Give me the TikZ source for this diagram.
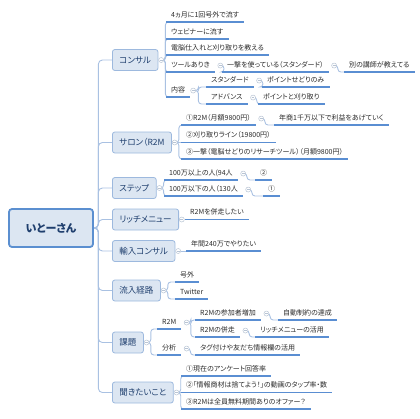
\documentclass[tikz,border=0pt]{standalone}
\usepackage{fontspec}
\newfontfamily\jpfont[RawFeature=+palt]{Noto Sans CJK JP}
\usetikzlibrary{positioning, backgrounds}
\definecolor{mnavy}{HTML}{1F3F6E}
\definecolor{mfill}{HTML}{DCE6F2}
\definecolor{medge}{HTML}{9DB9DE}
\definecolor{mroot}{HTML}{5B8FD0}
\definecolor{mline}{HTML}{A9C1E2}
\definecolor{muline}{HTML}{5A8ED2}
\definecolor{mfold}{HTML}{B8C4D4}
\definecolor{mtext}{HTML}{2B2B2B}
\tikzset{
  root/.style={
    draw=mroot, fill=mfill, line width=1.8pt, rounded corners=3pt,
    minimum width=84pt, minimum height=38pt, text=mnavy,
    font=\jpfont\bfseries\fontsize{11}{12}\selectfont
  },
  topic/.style={
    anchor=west, draw=medge, fill=mfill, line width=0.8pt, rounded corners=2.5pt,
    minimum height=21pt, inner xsep=7pt, text=mnavy,
    font=\jpfont\fontsize{8.5}{9}\selectfont
  },
  uline/.style={draw=muline, line width=1.1pt},
  leaf/.style={
    anchor=south west, inner xsep=5pt, inner ysep=3pt,
    text height=5pt, text depth=1.5pt, text=mtext,
    font=\jpfont\fontsize{7}{8}\selectfont,
    append after command={(\tikzlastnode.south west) edge[uline] (\tikzlastnode.south east)}
  },
  fold/.style={
    circle, draw=mfold, fill=white, line width=0.5pt, inner sep=0pt, minimum size=5pt,
    path picture={\draw[mfold, line width=0.5pt]
      ([xshift=-1.4pt]path picture bounding box.center) -- ([xshift=1.4pt]path picture bounding box.center);}
  },
  conn/.style={draw=mline, line width=0.9pt, rounded corners=3pt},
  trunk/.style={draw=mline, line width=0.9pt, rounded corners=4pt}
}
\begin{document}
\begin{tikzpicture}[x=1pt, y=-1pt]
  \useasboundingbox (0,0) rectangle (420,418);
  \node[root] (ito) at (51,228) {いとーさん};

  \node[topic] (kon) at (112,60) {コンサル};
  \node[topic] (salon) at (112,142.5) {サロン（R2M};
  \node[topic] (stp) at (112,188) {ステップ};
  \node[topic] (rich) at (112,219.5) {リッチメニュー};
  \node[topic] (yun) at (112,251) {輸入コンサル};
  \node[topic] (ryu) at (112,290.5) {流入経路};
  \node[topic] (kad) at (112,342.5) {課題};
  \node[topic] (kik) at (112,392.5) {聞きたいこと};

  \node[leaf] (kon1) at (166,22) {4ヵ月に1回号外で流す};
  \node[leaf] (kon2) at (166,39) {ウェビナーに流す};
  \node[leaf] (kon3) at (166,55) {電脳仕入れと刈り取りを教える};
  \node[leaf] (kon4) at (166,72) {ツールありき};
  \node[leaf] (kon4a) at (222,72) {一撃を使っている（スタンダード）};
  \node[leaf] (kon4b) at (344,72) {別の講師が教えてる};
  \node[leaf] (kon5) at (166,97) {内容};
  \node[leaf] (kon5a) at (206,87) {スタンダード};
  \node[leaf] (kon5aa) at (262,87) {ポイントせどりのみ};
  \node[leaf] (kon5b) at (206,104) {アドバンス};
  \node[leaf] (kon5ba) at (258,104) {ポイントと刈り取り};

  \node[leaf] (sal1) at (181,125) {①R2M（月額9800円）};
  \node[leaf] (sal1a) at (274,125) {年商1千万以下で利益をあげていく};
  \node[leaf] (sal2) at (181,142.5) {②刈り取りライン（19800円）};
  \node[leaf] (sal3) at (181,159) {③一撃（電脳せどりのリサーチツール）（月額9800円）};

  \node[leaf] (stp1) at (164,180) {100万以上の人(94人};
  \node[leaf] (stp1a) at (255,180) {②};
  \node[leaf] (stp2) at (164,196) {100万以下の人（130人};
  \node[leaf] (stp2a) at (263,196) {①};

  \node[leaf] (rich1) at (185,219.5) {R2Mを併走したい};
  \node[leaf] (yun1) at (186,251) {年間240万でやりたい};

  \node[leaf] (ryu1) at (175,282) {号外};
  \node[leaf] (ryu2) at (175,299) {Twitter};

  \node[leaf] (kad1) at (157,329) {R2M};
  \node[leaf] (kad1a) at (195,320) {R2Mの参加者増加};
  \node[leaf] (kad1aa) at (278,320) {自動制約の達成};
  \node[leaf] (kad1b) at (195,337) {R2Mの併走};
  \node[leaf] (kad1ba) at (255,337) {リッチメニューの活用};
  \node[leaf] (kad2) at (157,355) {分析};
  \node[leaf] (kad2a) at (195,355) {タグ付けや友だち情報欄の活用};

  \node[leaf] (kik1) at (181,376) {①現在のアンケート回答率};
  \node[leaf] (kik2) at (181,392.5) {②「情報商材は捨てよう！」の動画のタップ率・数};
  \node[leaf] (kik3) at (181,409) {③R2Mは全員無料期間ありのオファー？};

  \node[fold, right=0pt of kon] (kon-f) {};
  \node[fold, right=0pt of salon] (salon-f) {};
  \node[fold, right=0pt of stp] (stp-f) {};
  \node[fold, right=0pt of rich] (rich-f) {};
  \node[fold, right=0pt of yun] (yun-f) {};
  \node[fold, right=0pt of ryu] (ryu-f) {};
  \node[fold, right=0pt of kad] (kad-f) {};
  \node[fold, right=0pt of kik] (kik-f) {};
  \node[fold, right=2.5pt of kon4] (kon4-f) {};
  \node[fold, right=2.5pt of kon4a] (kon4a-f) {};
  \node[fold, right=0pt of kon5] (kon5-f) {};
  \node[fold, right=2.5pt of kon5a] (kon5a-f) {};
  \node[fold, right=2.5pt of kon5b] (kon5b-f) {};
  \node[fold, right=2.5pt of sal1] (sal1-f) {};
  \node[fold, right=2.5pt of stp1] (stp1-f) {};
  \node[fold, right=2.5pt of stp2] (stp2-f) {};
  \node[fold, right=2.5pt of kad1] (kad1-f) {};
  \node[fold, right=2.5pt of kad1a] (kad1a-f) {};
  \node[fold, right=2.5pt of kad1b] (kad1b-f) {};
  \node[fold, right=2.5pt of kad2] (kad2-f) {};

  \begin{pgfonlayer}{background}
    \draw[trunk] (ito.east) -- ++(4.5,0) |- (kon.west);
    \draw[trunk] (ito.east) -- ++(4.5,0) |- (salon.west);
    \draw[trunk] (ito.east) -- ++(4.5,0) |- (stp.west);
    \draw[trunk] (ito.east) -- ++(4.5,0) |- (rich.west);
    \draw[trunk] (ito.east) -- ++(4.5,0) |- (yun.west);
    \draw[trunk] (ito.east) -- ++(4.5,0) |- (ryu.west);
    \draw[trunk] (ito.east) -- ++(4.5,0) |- (kad.west);
    \draw[trunk] (ito.east) -- ++(4.5,0) |- (kik.west);

    \draw[conn] (kon-f.east) -- ++(1.5,0) |- (kon1.south west);
    \draw[conn] (kon-f.east) -- ++(1.5,0) |- (kon2.south west);
    \draw[conn] (kon-f.east) -- ++(1.5,0) |- (kon3.south west);
    \draw[conn] (kon-f.east) -- ++(1.5,0) |- (kon4.south west);
    \draw[conn] (kon-f.east) -- ++(1.5,0) |- (kon5.south west);
    \draw[conn] (kon4-f.east) -- ++(1,0) |- (kon4a.south west);
    \draw[conn] (kon4a-f.east) -- ++(1,0) |- (kon4b.south west);
    \draw[conn] (kon5-f.east) -- ++(2.5,0) |- (kon5a.south west);
    \draw[conn] (kon5-f.east) -- ++(2.5,0) |- (kon5b.south west);
    \draw[conn] (kon5a-f.east) -- ++(1,0) |- (kon5aa.south west);
    \draw[conn] (kon5b-f.east) -- ++(1,0) |- (kon5ba.south west);

    \draw[conn] (salon-f.east) -- ++(1.5,0) |- (sal1.south west);
    \draw[conn] (salon-f.east) -- (sal2.south west);
    \draw[conn] (salon-f.east) -- ++(1.5,0) |- (sal3.south west);
    \draw[conn] (sal1-f.east) -- ++(1,0) |- (sal1a.south west);

    \draw[conn] (stp-f.east) -- ++(1.5,0) |- (stp1.south west);
    \draw[conn] (stp-f.east) -- ++(1.5,0) |- (stp2.south west);
    \draw[conn] (stp1-f.east) -- ++(1,0) |- (stp1a.south west);
    \draw[conn] (stp2-f.east) -- ++(1,0) |- (stp2a.south west);

    \draw[conn] (rich-f.east) -- (rich1.south west);
    \draw[conn] (yun-f.east) -- (yun1.south west);

    \draw[conn] (ryu-f.east) -- ++(1.5,0) |- (ryu1.south west);
    \draw[conn] (ryu-f.east) -- ++(1.5,0) |- (ryu2.south west);

    \draw[conn] (kad-f.east) -- ++(1.5,0) |- (kad1.south west);
    \draw[conn] (kad-f.east) -- ++(1.5,0) |- (kad2.south west);
    \draw[conn] (kad1-f.east) -- ++(1.5,0) |- (kad1a.south west);
    \draw[conn] (kad1-f.east) -- ++(1.5,0) |- (kad1b.south west);
    \draw[conn] (kad1a-f.east) -- ++(1,0) |- (kad1aa.south west);
    \draw[conn] (kad1b-f.east) -- ++(1,0) |- (kad1ba.south west);
    \draw[conn] (kad2-f.east) -- ++(1,0) |- (kad2a.south west);

    \draw[conn] (kik-f.east) -- ++(1.5,0) |- (kik1.south west);
    \draw[conn] (kik-f.east) -- (kik2.south west);
    \draw[conn] (kik-f.east) -- ++(1.5,0) |- (kik3.south west);
  \end{pgfonlayer}
\end{tikzpicture}
\end{document}
